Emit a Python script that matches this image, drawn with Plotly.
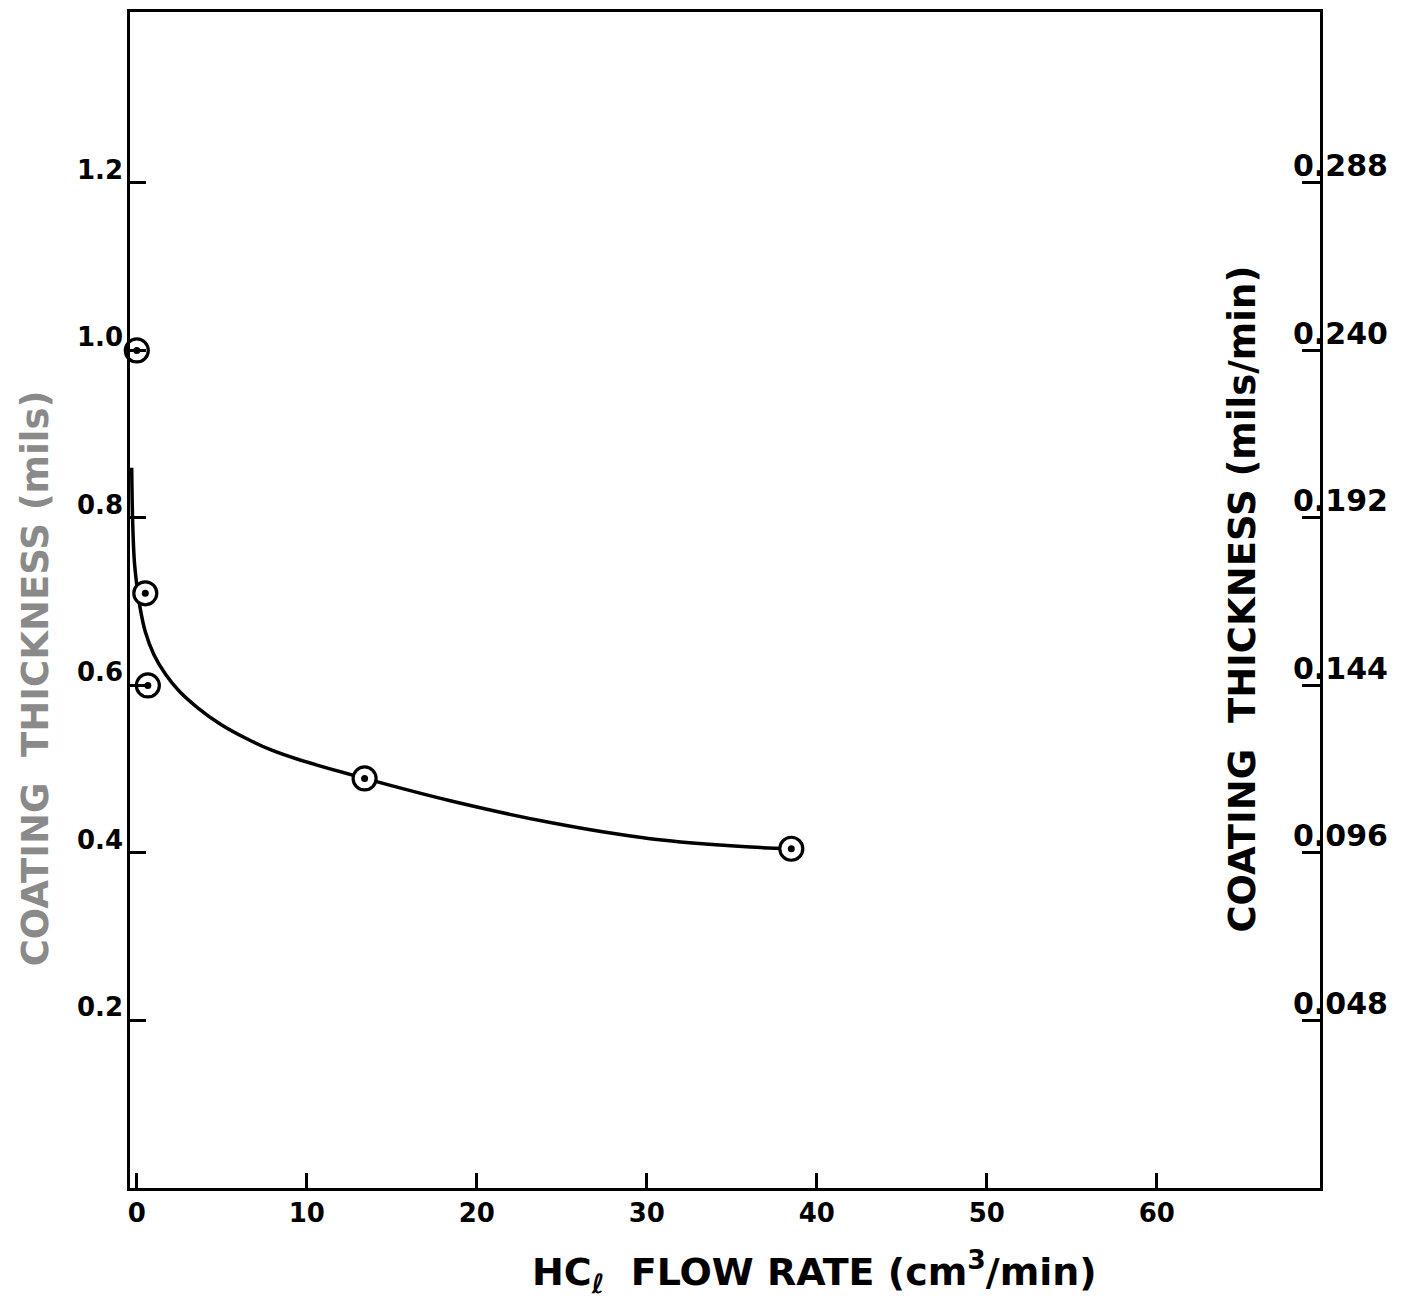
import plotly.graph_objects as go

# ---- data ----
flow_points = [0.0, 0.50, 0.65, 13.4, 38.5]          # HCl flow rate (cm3/min)
thick_points = [1.00, 0.71, 0.60, 0.489, 0.405]      # coating thickness (mils)

curve_x = [-0.3, -0.25, -0.15, 0.0, 0.2, 0.5, 1.0, 1.7, 2.5, 3.6, 4.9, 6.5,
           7.9, 9.6, 13.4, 18.5, 24.4, 30.2, 36.1, 38.4]
curve_y = [0.86, 0.80, 0.75, 0.72, 0.692, 0.664, 0.637, 0.613, 0.593, 0.573,
           0.554, 0.536, 0.523, 0.511, 0.489, 0.462, 0.436, 0.417, 0.407, 0.405]

x_ticks = [0, 10, 20, 30, 40, 50, 60]
x_ticktext = ["0", "10", "20", "30", "40", "50", "60"]
left_ticks = [0.2, 0.4, 0.6, 0.8, 1.0, 1.2]
left_ticktext = ["0.2", "0.4", "0.6", "0.8", "1.0", "1.2"]
right_ticks = [0.048, 0.096, 0.144, 0.192, 0.240, 0.288]
right_ticktext = ["0.048", "0.096", "0.144", "0.192", "0.240", "0.288"]

RATE = 0.24          # mils/min per mil (right axis = left * RATE)
Y_MAX = 1.404
X_RANGE = [-0.4, 69.6]
LEFT_LABEL_SHIFT = 0.016
RIGHT_LABEL_SHIFT = 0.0049

FONT = "DejaVu Sans"

fig = go.Figure()

fig.add_trace(go.Scatter(x=curve_x, y=curve_y, mode="lines",
                         line=dict(color="black", width=3.5, shape="spline", smoothing=0.9),
                         hoverinfo="skip", showlegend=False, cliponaxis=False))
fig.add_trace(go.Scatter(x=flow_points, y=thick_points, mode="markers",
                         marker=dict(symbol="circle", size=23, color="white",
                                     line=dict(color="black", width=3.2)),
                         showlegend=False, cliponaxis=False))
fig.add_trace(go.Scatter(x=flow_points, y=thick_points, mode="markers",
                         marker=dict(symbol="circle", size=7, color="black"),
                         showlegend=False, cliponaxis=False))
# empty traces binding the label / right axes
for ax in ["y2", "y3", "y4"]:
    fig.add_trace(go.Scatter(x=[None], y=[None], yaxis=ax, showlegend=False,
                             hoverinfo="skip", mode="lines"))

tickfont = dict(size=26, family=FONT, color="black", weight="bold")

fig.update_layout(
    width=1411, height=1293,
    margin=dict(l=122, r=99, t=1, b=113),
    paper_bgcolor="white", plot_bgcolor="white",
    font=dict(family=FONT, color="black"),
    xaxis=dict(range=X_RANGE, tickvals=x_ticks, ticktext=x_ticktext,
               ticks="inside", ticklen=15, tickwidth=2.5, tickcolor="black",
               showline=True, linewidth=3, linecolor="black", mirror=True,
               showgrid=False, zeroline=False, tickfont=tickfont),
    yaxis=dict(range=[0, Y_MAX], tickvals=left_ticks, ticks="inside",
               ticklen=16, tickwidth=2.5, tickcolor="black", showticklabels=False,
               showline=True, linewidth=3, linecolor="black",
               showgrid=False, zeroline=False),
    yaxis3=dict(overlaying="y", side="left", anchor="x",
                range=[-LEFT_LABEL_SHIFT, Y_MAX - LEFT_LABEL_SHIFT],
                tickvals=left_ticks, ticktext=left_ticktext, ticks="",
                showline=False, showgrid=False, zeroline=False,
                ticklabelstandoff=6, tickfont=tickfont),
    yaxis2=dict(overlaying="y", side="right", anchor="x",
                range=[0, Y_MAX * RATE], tickvals=right_ticks, ticks="inside",
                ticklen=18, tickwidth=2.5, tickcolor="black", showticklabels=False,
                showline=True, linewidth=3, linecolor="black",
                showgrid=False, zeroline=False),
    yaxis4=dict(overlaying="y", side="right", anchor="x",
                range=[-RIGHT_LABEL_SHIFT, Y_MAX * RATE - RIGHT_LABEL_SHIFT],
                tickvals=right_ticks, ticktext=right_ticktext, ticks="",
                showline=False, showgrid=False, zeroline=False,
                ticklabelstandoff=-28,
                tickfont=dict(size=30, family=FONT, color="black", weight="bold")),
    annotations=[
        dict(text="HC<sub>ℓ</sub>  FLOW RATE (cm<sup>3</sup>/min)",
             xref="paper", yref="paper", x=0.5756, y=-0.0712,
             xanchor="center", yanchor="middle", showarrow=False,
             font=dict(size=38, family=FONT, color="black", weight="bold")),
        dict(text="COATING  THICKNESS (mils)",
             xref="paper", yref="paper", x=-0.0798, y=0.4334,
             xanchor="center", yanchor="middle", showarrow=False, textangle=-90,
             font=dict(size=37, family=FONT, color="#8a8a8a", weight="bold")),
        dict(text="COATING  THICKNESS (mils/min)",
             xref="paper", yref="paper", x=0.9345, y=0.5004,
             xanchor="center", yanchor="middle", showarrow=False, textangle=-90,
             font=dict(size=37, family=FONT, color="black", weight="bold")),
    ],
)

fig.write_html("out.html")
